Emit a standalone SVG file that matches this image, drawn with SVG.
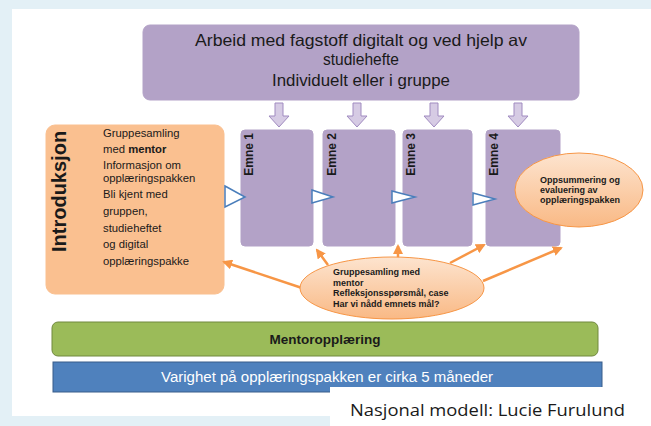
<svg xmlns="http://www.w3.org/2000/svg" width="651" height="426" viewBox="0 0 651 426">
<style>
  text { font-family: "Liberation Sans", Arial, sans-serif; fill: #1a1a1a; }
  .purple { fill: #b3a2c7; stroke: #b3a2c7; stroke-width: 1; }
  .emne { font-size: 12px; font-weight: bold; }
  .small { font-size: 11.3px; }
  .oval { font-size: 9px; font-weight: bold; }
  .tri { fill: #ffffff; stroke: #4a7ebb; stroke-width: 1.5; stroke-linejoin: miter; }
  .conn { stroke: #f79646; stroke-width: 2.5; fill: none; marker-end: url(#oh); }
  .down { fill: #d6cbe4; stroke: #a08bc0; stroke-width: 1; }
  text.credit { font-family: "Open Sans", "Noto Sans", sans-serif; }
</style>
<defs>
  <marker id="oh" viewBox="0 0 10 10" refX="8" refY="5" markerWidth="4" markerHeight="4" orient="auto" markerUnits="strokeWidth">
    <path d="M0,0 L10,5 L0,10 Z" fill="#f79646"/>
  </marker>
  <linearGradient id="og" x1="0" y1="0" x2="0" y2="1">
    <stop offset="0" stop-color="#fde4cf"/>
    <stop offset="1" stop-color="#f9b985"/>
  </linearGradient>
  <path id="darr" d="M-4,103 H4 V116 H10 L0,127 L-10,116 H-4 Z"/>
</defs>
<rect x="0" y="0" width="651" height="426" fill="#e3f0f6"/>
<rect x="12" y="9" width="639" height="407" fill="#ffffff"/>

<g id="top-box">
  <rect x="143" y="25" width="436" height="75" rx="7" class="purple"/>
  <text x="361" y="46" font-size="16.5" text-anchor="middle" textLength="332" lengthAdjust="spacingAndGlyphs">Arbeid med fagstoff  digitalt og ved hjelp av</text>
  <text x="361" y="65" font-size="16.5" text-anchor="middle" textLength="76" lengthAdjust="spacingAndGlyphs">studiehefte</text>
  <text x="361" y="86" font-size="16.5" text-anchor="middle" textLength="178" lengthAdjust="spacingAndGlyphs">Individuelt eller i gruppe</text>
</g>

<g id="down-arrows">
  <use href="#darr" x="279" class="down"/>
  <use href="#darr" x="357" class="down"/>
  <use href="#darr" x="434" class="down"/>
  <use href="#darr" x="518" class="down"/>
</g>

<g id="introduksjon">
  <rect x="46" y="125" width="178" height="169" rx="9" fill="#fac090" stroke="#fac090"/>
  <text transform="translate(66,252) rotate(-90)" font-size="20" font-weight="bold">Introduksjon</text>
  <text x="103" y="137" class="small">Gruppesamling</text>
  <text x="103" y="153" class="small">med <tspan font-weight="bold">mentor</tspan></text>
  <text x="103" y="169" class="small">Informasjon om</text>
  <text x="103" y="182" class="small">opplæringspakken</text>
  <text x="103" y="198" class="small">Bli kjent med</text>
  <text x="103" y="215" class="small">gruppen,</text>
  <text x="103" y="232" class="small">studieheftet</text>
  <text x="103" y="248" class="small">og digital</text>
  <text x="103" y="265" class="small">opplæringspakke</text>
</g>

<g id="emne1">
  <rect x="241" y="130" width="72" height="116" rx="4" class="purple"/>
  <text transform="translate(253,133) rotate(-90)" class="emne" text-anchor="end">Emne  1</text>
</g>
<g id="emne2">
  <rect x="323" y="130" width="72" height="116" rx="4" class="purple"/>
  <text transform="translate(336,133) rotate(-90)" class="emne" text-anchor="end">Emne 2</text>
</g>
<g id="emne3">
  <rect x="403" y="130" width="69" height="116" rx="4" class="purple"/>
  <text transform="translate(415,133) rotate(-90)" class="emne" text-anchor="end">Emne 3</text>
</g>
<g id="emne4">
  <rect x="486" y="130" width="74" height="116" rx="4" class="purple"/>
  <text transform="translate(498,133) rotate(-90)" class="emne" text-anchor="end">Emne 4</text>
</g>

<g id="flow-arrows">
  <path class="tri" d="M225,186 L245,197 L225,207 Z"/>
  <path class="tri" d="M312,190 L333,197 L312,203 Z"/>
  <path class="tri" d="M392,191 L415,197 L392,203 Z"/>
  <path class="tri" d="M473,193 L495,199 L473,205 Z"/>
</g>

<g id="connectors">
  <line class="conn" x1="302" y1="288" x2="224" y2="262"/>
  <line class="conn" x1="328" y1="265" x2="317" y2="250"/>
  <line class="conn" x1="398" y1="258" x2="398" y2="246"/>
  <line class="conn" x1="450" y1="263" x2="484" y2="245"/>
  <line class="conn" x1="483" y1="281" x2="561" y2="248"/>
</g>

<g id="gruppesamling">
  <ellipse cx="392" cy="288" rx="92" ry="31" fill="url(#og)" stroke="#f79646" stroke-width="1"/>
  <text x="333" y="275" class="oval">Gruppesamling med</text>
  <text x="333" y="285.5" class="oval">mentor</text>
  <text x="333" y="296" class="oval">Refleksjonsspørsmål, case</text>
  <text x="333" y="306.5" class="oval">Har vi nådd emnets mål?</text>
</g>

<g id="oppsummering">
  <ellipse cx="579" cy="190" rx="64" ry="37" fill="url(#og)" stroke="#f79646" stroke-width="1"/>
  <text x="540" y="183" class="oval" font-size="8.3">Oppsummering og</text>
  <text x="540" y="193" class="oval" font-size="8.3">evaluering av</text>
  <text x="540" y="203" class="oval" font-size="8.3">opplæringspakken</text>
</g>

<g id="mentoropplaering">
  <rect x="52" y="322" width="546" height="34" rx="6" fill="#9bbb59" stroke="#71893f" stroke-width="1"/>
  <text x="325" y="344" font-size="13.5" font-weight="bold" text-anchor="middle">Mentoropplæring</text>
</g>

<g id="varighet">
  <rect x="53" y="362" width="549" height="30" fill="#4f81bd" stroke="#385d8a" stroke-width="1"/>
  <text x="327" y="382" font-size="14" text-anchor="middle" style="fill:#ffffff" textLength="332" lengthAdjust="spacingAndGlyphs">Varighet på opplæringspakken er cirka 5 måneder</text>
</g>

<g id="kilde">
  <rect x="330" y="387" width="321" height="39" fill="#ffffff"/>
  <text x="350" y="416" class="credit" font-size="17" textLength="275" lengthAdjust="spacingAndGlyphs">Nasjonal modell: Lucie Furulund</text>
</g>
</svg>
